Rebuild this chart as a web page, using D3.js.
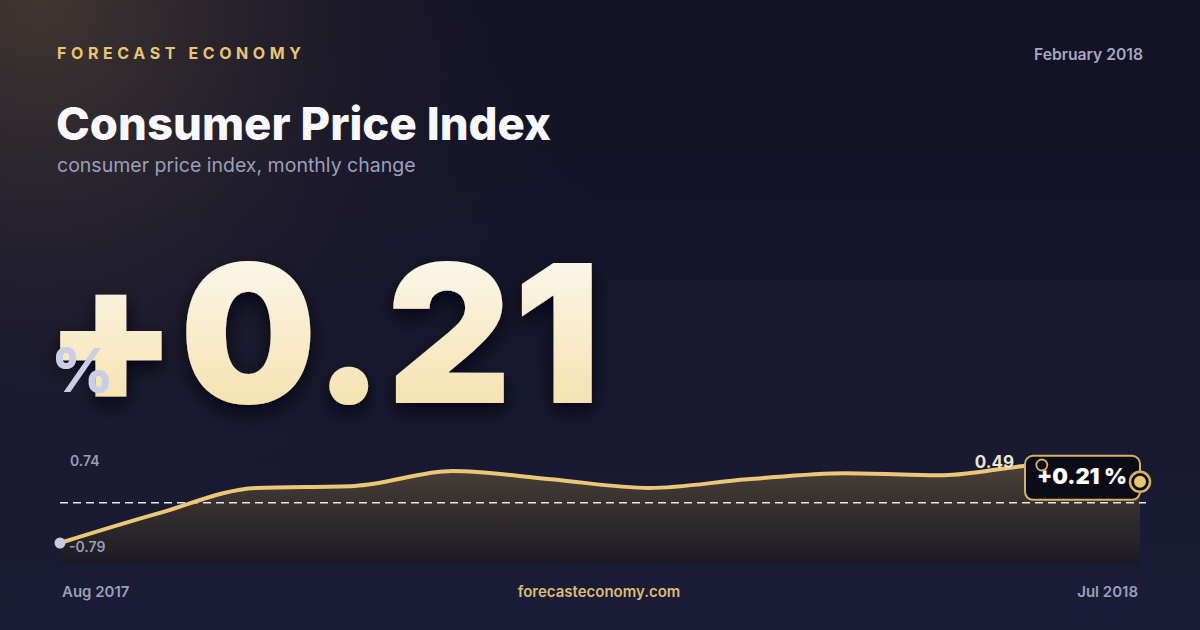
<!DOCTYPE html>
<html>
<head>
<meta charset="utf-8">
<script src="https://cdn.jsdelivr.net/npm/d3@7"></script>
<style>
  html, body { margin: 0; padding: 0; background: #15162b; }
  svg { display: block; font-family: Inter, "Noto Sans", sans-serif; }
</style>
</head>
<body>
<div id="card"></div>
<script>
// data
var months = ["Aug 2017", "Sep 2017", "Oct 2017", "Nov 2017", "Dec 2017", "Jan 2018",
              "Feb 2018", "Mar 2018", "Apr 2018", "May 2018", "Jun 2018", "Jul 2018"];
var values = [-0.79, -0.21, 0.29, 0.33, 0.62, 0.46, 0.29, 0.46, 0.58, 0.54, 0.74, 0.41];
var headline = "+0.21";
var badgeText = "+0.21 %";
var sideLabel = "0.49";
var period = "February 2018";

var W = 1200, H = 630;

var svg = d3.select("#card")
  .append("svg")
    .attr("width", W)
    .attr("height", H);

var defs = svg.append("defs");

var bg = defs.append("linearGradient").attr("id", "bg")
  .attr("x1", 0).attr("y1", 0).attr("x2", 0).attr("y2", 1);
bg.append("stop").attr("offset", "0%").attr("stop-color", "#121223");
bg.append("stop").attr("offset", "100%").attr("stop-color", "#1b1c37");

var glow = defs.append("radialGradient").attr("id", "glow")
  .attr("gradientUnits", "userSpaceOnUse")
  .attr("cx", 40).attr("cy", 0).attr("r", 620);
glow.append("stop").attr("offset", "0%").attr("stop-color", "#4a3d33").attr("stop-opacity", 0.85);
glow.append("stop").attr("offset", "55%").attr("stop-color", "#2a2430").attr("stop-opacity", 0.35);
glow.append("stop").attr("offset", "100%").attr("stop-color", "#15152a").attr("stop-opacity", 0);

var bigFill = defs.append("linearGradient").attr("id", "bigFill")
  .attr("x1", 0).attr("y1", 0).attr("x2", 0).attr("y2", 1);
bigFill.append("stop").attr("offset", "0%").attr("stop-color", "#fdfcfa");
bigFill.append("stop").attr("offset", "100%").attr("stop-color", "#f4dc9f");

var areaFill = defs.append("linearGradient").attr("id", "areaFill")
  .attr("gradientUnits", "userSpaceOnUse")
  .attr("x1", 0).attr("y1", 465).attr("x2", 0).attr("y2", 565);
areaFill.append("stop").attr("offset", "0%").attr("stop-color", "#4b4038");
areaFill.append("stop").attr("offset", "100%").attr("stop-color", "#1a1924");

var shadow = defs.append("filter").attr("id", "shadow")
  .attr("x", "-10%").attr("y", "-10%").attr("width", "120%").attr("height", "130%");
shadow.append("feDropShadow")
  .attr("dx", 0).attr("dy", 8).attr("stdDeviation", 9)
  .attr("flood-color", "#05050d").attr("flood-opacity", 0.8);

svg.append("rect").attr("width", W).attr("height", H).attr("fill", "url(#bg)");
svg.append("rect").attr("width", W).attr("height", H).attr("fill", "url(#glow)");

// header
svg.append("text")
  .attr("x", 57).attr("y", 59)
  .attr("font-size", 16).attr("font-weight", 700)
  .attr("letter-spacing", "4.6px")
  .attr("fill", "#e8c474")
  .text("FORECAST ECONOMY");

svg.append("text")
  .attr("x", 1143).attr("y", 60)
  .attr("text-anchor", "end")
  .attr("font-size", 15.7).attr("font-weight", 600)
  .attr("fill", "#a5a7c2")
  .text(period);

svg.append("text")
  .attr("x", 56).attr("y", 140)
  .attr("font-size", 45.5).attr("font-weight", 800)
  .attr("fill", "#f8f8fc")
  .text("Consumer Price Index");

svg.append("text")
  .attr("x", 57).attr("y", 172)
  .attr("font-size", 19.5).attr("font-weight", 400)
  .attr("fill", "#9c9eba")
  .text("consumer price index, monthly change");

// headline number
svg.append("text")
  .attr("x", 44).attr("y", 403)
  .attr("font-size", 193).attr("font-weight", 900)
  .attr("letter-spacing", "2px")
  .attr("fill", "url(#bigFill)")
  .attr("filter", "url(#shadow)")
  .text(headline);

svg.append("text")
  .attr("x", 51).attr("y", 392)
  .attr("font-size", 61).attr("font-weight", 800)
  .attr("fill", "#c9cde6")
  .text("%");

// chart
var x = d3.scalePoint()
  .domain(months)
  .range([60, 1140]);

var y = d3.scaleLinear()
  .domain([d3.min(values), d3.max(values)])
  .range([543, 465]);

var bottom = 565;

var area = d3.area()
  .x(function(d, i) { return x(months[i]); })
  .y0(bottom)
  .y1(function(d) { return y(d); })
  .curve(d3.curveMonotoneX);

var line = d3.line()
  .x(function(d, i) { return x(months[i]); })
  .y(function(d) { return y(d); })
  .curve(d3.curveMonotoneX);

svg.append("path")
  .datum(values)
  .attr("d", area)
  .attr("fill", "url(#areaFill)");

svg.append("line")
  .attr("x1", 60).attr("x2", 1146)
  .attr("y1", y(0)).attr("y2", y(0))
  .attr("stroke", "#e6e4ee")
  .attr("stroke-width", 1.4)
  .attr("stroke-dasharray", "8,5");

svg.append("path")
  .datum(values)
  .attr("d", line)
  .attr("fill", "none")
  .attr("stroke", "#ebc777")
  .attr("stroke-width", 4)
  .attr("stroke-linejoin", "round");

var first = values[0];
var last = values[values.length - 1];
var iMax = d3.maxIndex(values);
var xFirst = x(months[0]), xLast = x(months[months.length - 1]);

svg.append("circle")
  .attr("cx", xFirst).attr("cy", y(first))
  .attr("r", 5.5)
  .attr("fill", "#c8cbe0");

svg.append("text")
  .attr("x", 70).attr("y", 466)
  .attr("font-size", 14).attr("font-weight", 600)
  .attr("fill", "#9a9cb8")
  .text(d3.format(".2f")(d3.max(values)));

svg.append("text")
  .attr("x", 69).attr("y", 552)
  .attr("font-size", 14).attr("font-weight", 600)
  .attr("fill", "#9a9cb8")
  .text(d3.format(".2f")(d3.min(values)).replace("−", "-"));

svg.append("text")
  .attr("x", 1014).attr("y", 468)
  .attr("text-anchor", "end")
  .attr("font-size", 17).attr("font-weight", 700)
  .attr("fill", "#ece5d6")
  .text(sideLabel);

// badge on the last point
var yLast = y(last);
svg.append("rect")
  .attr("x", xLast - 115).attr("y", yLast - 26)
  .attr("width", 115).attr("height", 44)
  .attr("rx", 8)
  .attr("fill", "#0b0c18")
  .attr("stroke", "#d5b262")
  .attr("stroke-width", 2);

svg.append("text")
  .attr("x", xLast - 103).attr("y", yLast + 2)
  .attr("font-size", 22).attr("font-weight", 900)
  .attr("fill", "#ffffff")
  .text(badgeText);

svg.append("circle")
  .attr("cx", x(months[iMax])).attr("cy", y(values[iMax]))
  .attr("r", 5.5)
  .attr("fill", "none")
  .attr("stroke", "#d5b262")
  .attr("stroke-width", 1.8);

svg.append("circle")
  .attr("cx", xLast).attr("cy", yLast)
  .attr("r", 10)
  .attr("fill", "#0b0c18")
  .attr("stroke", "#d5b262")
  .attr("stroke-width", 2.5);

svg.append("circle")
  .attr("cx", xLast).attr("cy", yLast)
  .attr("r", 6)
  .attr("fill", "#e6c577");

// footer
svg.append("text")
  .attr("x", 62).attr("y", 597)
  .attr("font-size", 15).attr("font-weight", 600)
  .attr("fill", "#9c9eba")
  .text(months[0]);

svg.append("text")
  .attr("x", 599).attr("y", 597)
  .attr("text-anchor", "middle")
  .attr("font-size", 15).attr("font-weight", 600)
  .attr("fill", "#dcbc72")
  .text("forecasteconomy.com");

svg.append("text")
  .attr("x", 1138).attr("y", 597)
  .attr("text-anchor", "end")
  .attr("font-size", 15).attr("font-weight", 600)
  .attr("fill", "#9c9eba")
  .text(months[months.length - 1]);
</script>
</body>
</html>
